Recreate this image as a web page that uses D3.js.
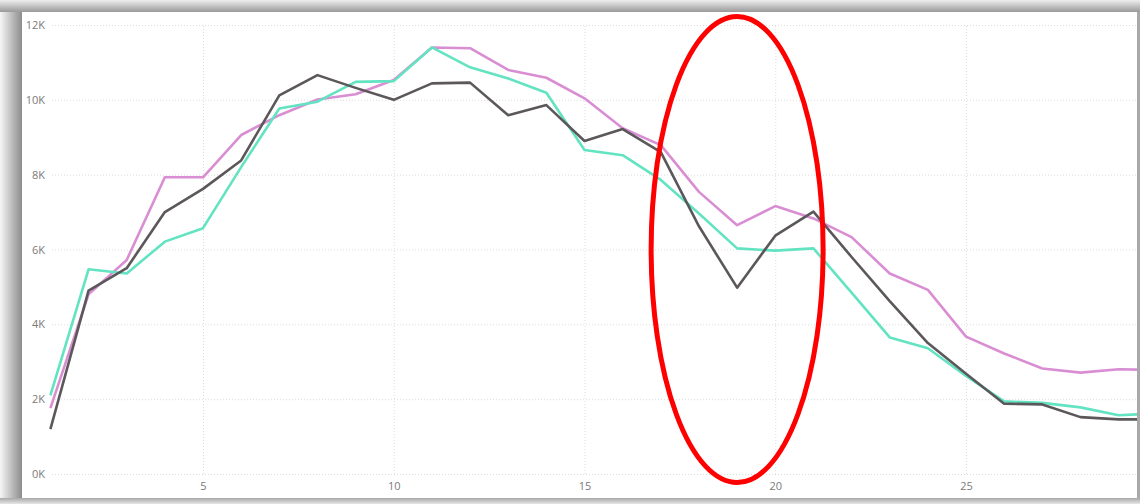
<!DOCTYPE html>
<meta charset="utf-8">
<title>Daily line chart</title>
<style>

body {
  margin: 0;
  background: #fff;
}

.tick text {
  font-family: "Open Sans", sans-serif;
  font-size: 11px;
  fill: #7a7a7a;
}

.grid line {
  stroke: #dcdcdc;
  stroke-dasharray: 1,2;
}

</style>
<body>
  <script src="https://d3js.org/d3.v7.min.js"></script>
  <script>

  const width = 1140;
  const height = 504;

  // data (values in thousands)
  const days = d3.range(1, 31);
  const graySeries = [1.2, 4.9, 5.5, 7.0, 7.62, 8.38, 10.12, 10.66, 10.32, 10.0,
    10.44, 10.46, 9.59, 9.86, 8.9, 9.22, 8.6, 6.62, 4.98, 6.37,
    7.01, 5.8, 4.62, 3.5, 2.68, 1.88, 1.86, 1.52, 1.46, 1.46];
  const tealSeries = [2.1, 5.47, 5.36, 6.21, 6.57, 8.2, 9.77, 9.95, 10.48, 10.5,
    11.4, 10.87, 10.57, 10.19, 8.66, 8.52, 7.86, 6.96, 6.03, 5.97,
    6.03, 4.85, 3.65, 3.36, 2.62, 1.94, 1.9, 1.78, 1.57, 1.62];
  const pinkSeries = [1.76, 4.8, 5.72, 7.93, 7.93, 9.06, 9.59, 10.01, 10.15, 10.53,
    11.4, 11.38, 10.8, 10.59, 10.04, 9.24, 8.79, 7.54, 6.65, 7.16,
    6.83, 6.33, 5.36, 4.92, 3.67, 3.22, 2.82, 2.71, 2.8, 2.78];
  const yTicks = [0, 2, 4, 6, 8, 10, 12];
  const xTicks = [5, 10, 15, 20, 25];
  const highlightDay = 19; // the dip circled in red

  const series = [
    {name: "pink", values: pinkSeries, color: "#d98ed3"},
    {name: "teal", values: tealSeries, color: "#62e3c1"},
    {name: "gray", values: graySeries, color: "#5b575a"}
  ];

  const panel = {left: 22, top: 12, right: 1137, bottom: 498};

  const x = d3.scaleLinear().domain([1, 29.56]).range([50.4, 1140]);
  const y = d3.scaleLinear().domain([0, 12]).range([474, 25]);

  const svg = d3.select("body").append("svg")
      .attr("width", width)
      .attr("height", height)
      .style("display", "block");

  const defs = svg.append("defs");

  const gradient = (id, x2, y2, from, to) => {
    const g = defs.append("linearGradient").attr("id", id)
        .attr("x1", 0).attr("y1", 0).attr("x2", x2).attr("y2", y2);
    g.append("stop").attr("offset", 0).attr("stop-color", from);
    g.append("stop").attr("offset", 1).attr("stop-color", to);
  };
  gradient("leftshade", 1, 0, "#f6f6f6", "#8c8c8c");
  gradient("topshade", 0, 1, "#eeeeee", "#999999");
  gradient("bottomshade", 0, 1, "#a8a8a8", "#e6e6e6");

  defs.append("clipPath").attr("id", "plot")
    .append("rect")
      .attr("x", panel.left).attr("y", panel.top)
      .attr("width", panel.right - panel.left).attr("height", panel.bottom - panel.top);

  /* frame shading round the white panel */
  svg.append("rect")
      .attr("width", panel.left).attr("height", height)
      .attr("fill", "url(#leftshade)");
  svg.append("rect")
      .attr("width", width).attr("height", panel.top)
      .attr("fill", "url(#topshade)");
  svg.append("rect")
      .attr("y", panel.bottom)
      .attr("width", width).attr("height", height - panel.bottom)
      .attr("fill", "url(#bottomshade)");
  svg.append("rect")
      .attr("x", panel.right).attr("y", panel.top)
      .attr("width", width - panel.right).attr("height", panel.bottom - panel.top)
      .attr("fill", "#a9a9a9");

  // horizontal grid + y labels
  const yAxis = svg.append("g")
      .attr("class", "grid")
      .attr("transform", "translate(52,0)")
      .call(d3.axisLeft(y).tickValues(yTicks)
        .tickSize(-(panel.right - 52))
        .tickPadding(7)
        .tickFormat(d => d + "K"));
  yAxis.select(".domain").remove();

  // vertical grid + x labels
  const xAxis = svg.append("g")
      .attr("class", "grid")
      .attr("transform", "translate(0,474)")
      .call(d3.axisBottom(x).tickValues(xTicks)
        .tickSize(-449)
        .tickPadding(8)
        .tickFormat(d3.format("d")));
  xAxis.select(".domain").remove();

  const line = d3.line()
      .x((d, i) => x(days[i]))
      .y(d => y(d));

  svg.append("g")
      .attr("clip-path", "url(#plot)")
    .selectAll("path")
    .data(series)
    .join("path")
      .attr("d", d => line(d.values))
      .attr("fill", "none")
      .attr("stroke", d => d.color)
      .attr("stroke-width", 2.6)
      .attr("stroke-linejoin", "round");

  // red ellipse round the dip
  svg.append("ellipse")
      .attr("cx", x(highlightDay))
      .attr("cy", y(6.0))
      .attr("rx", 86)
      .attr("ry", 233)
      .attr("fill", "none")
      .attr("stroke", "#ff0000")
      .attr("stroke-width", 5);

  </script>
</body>
